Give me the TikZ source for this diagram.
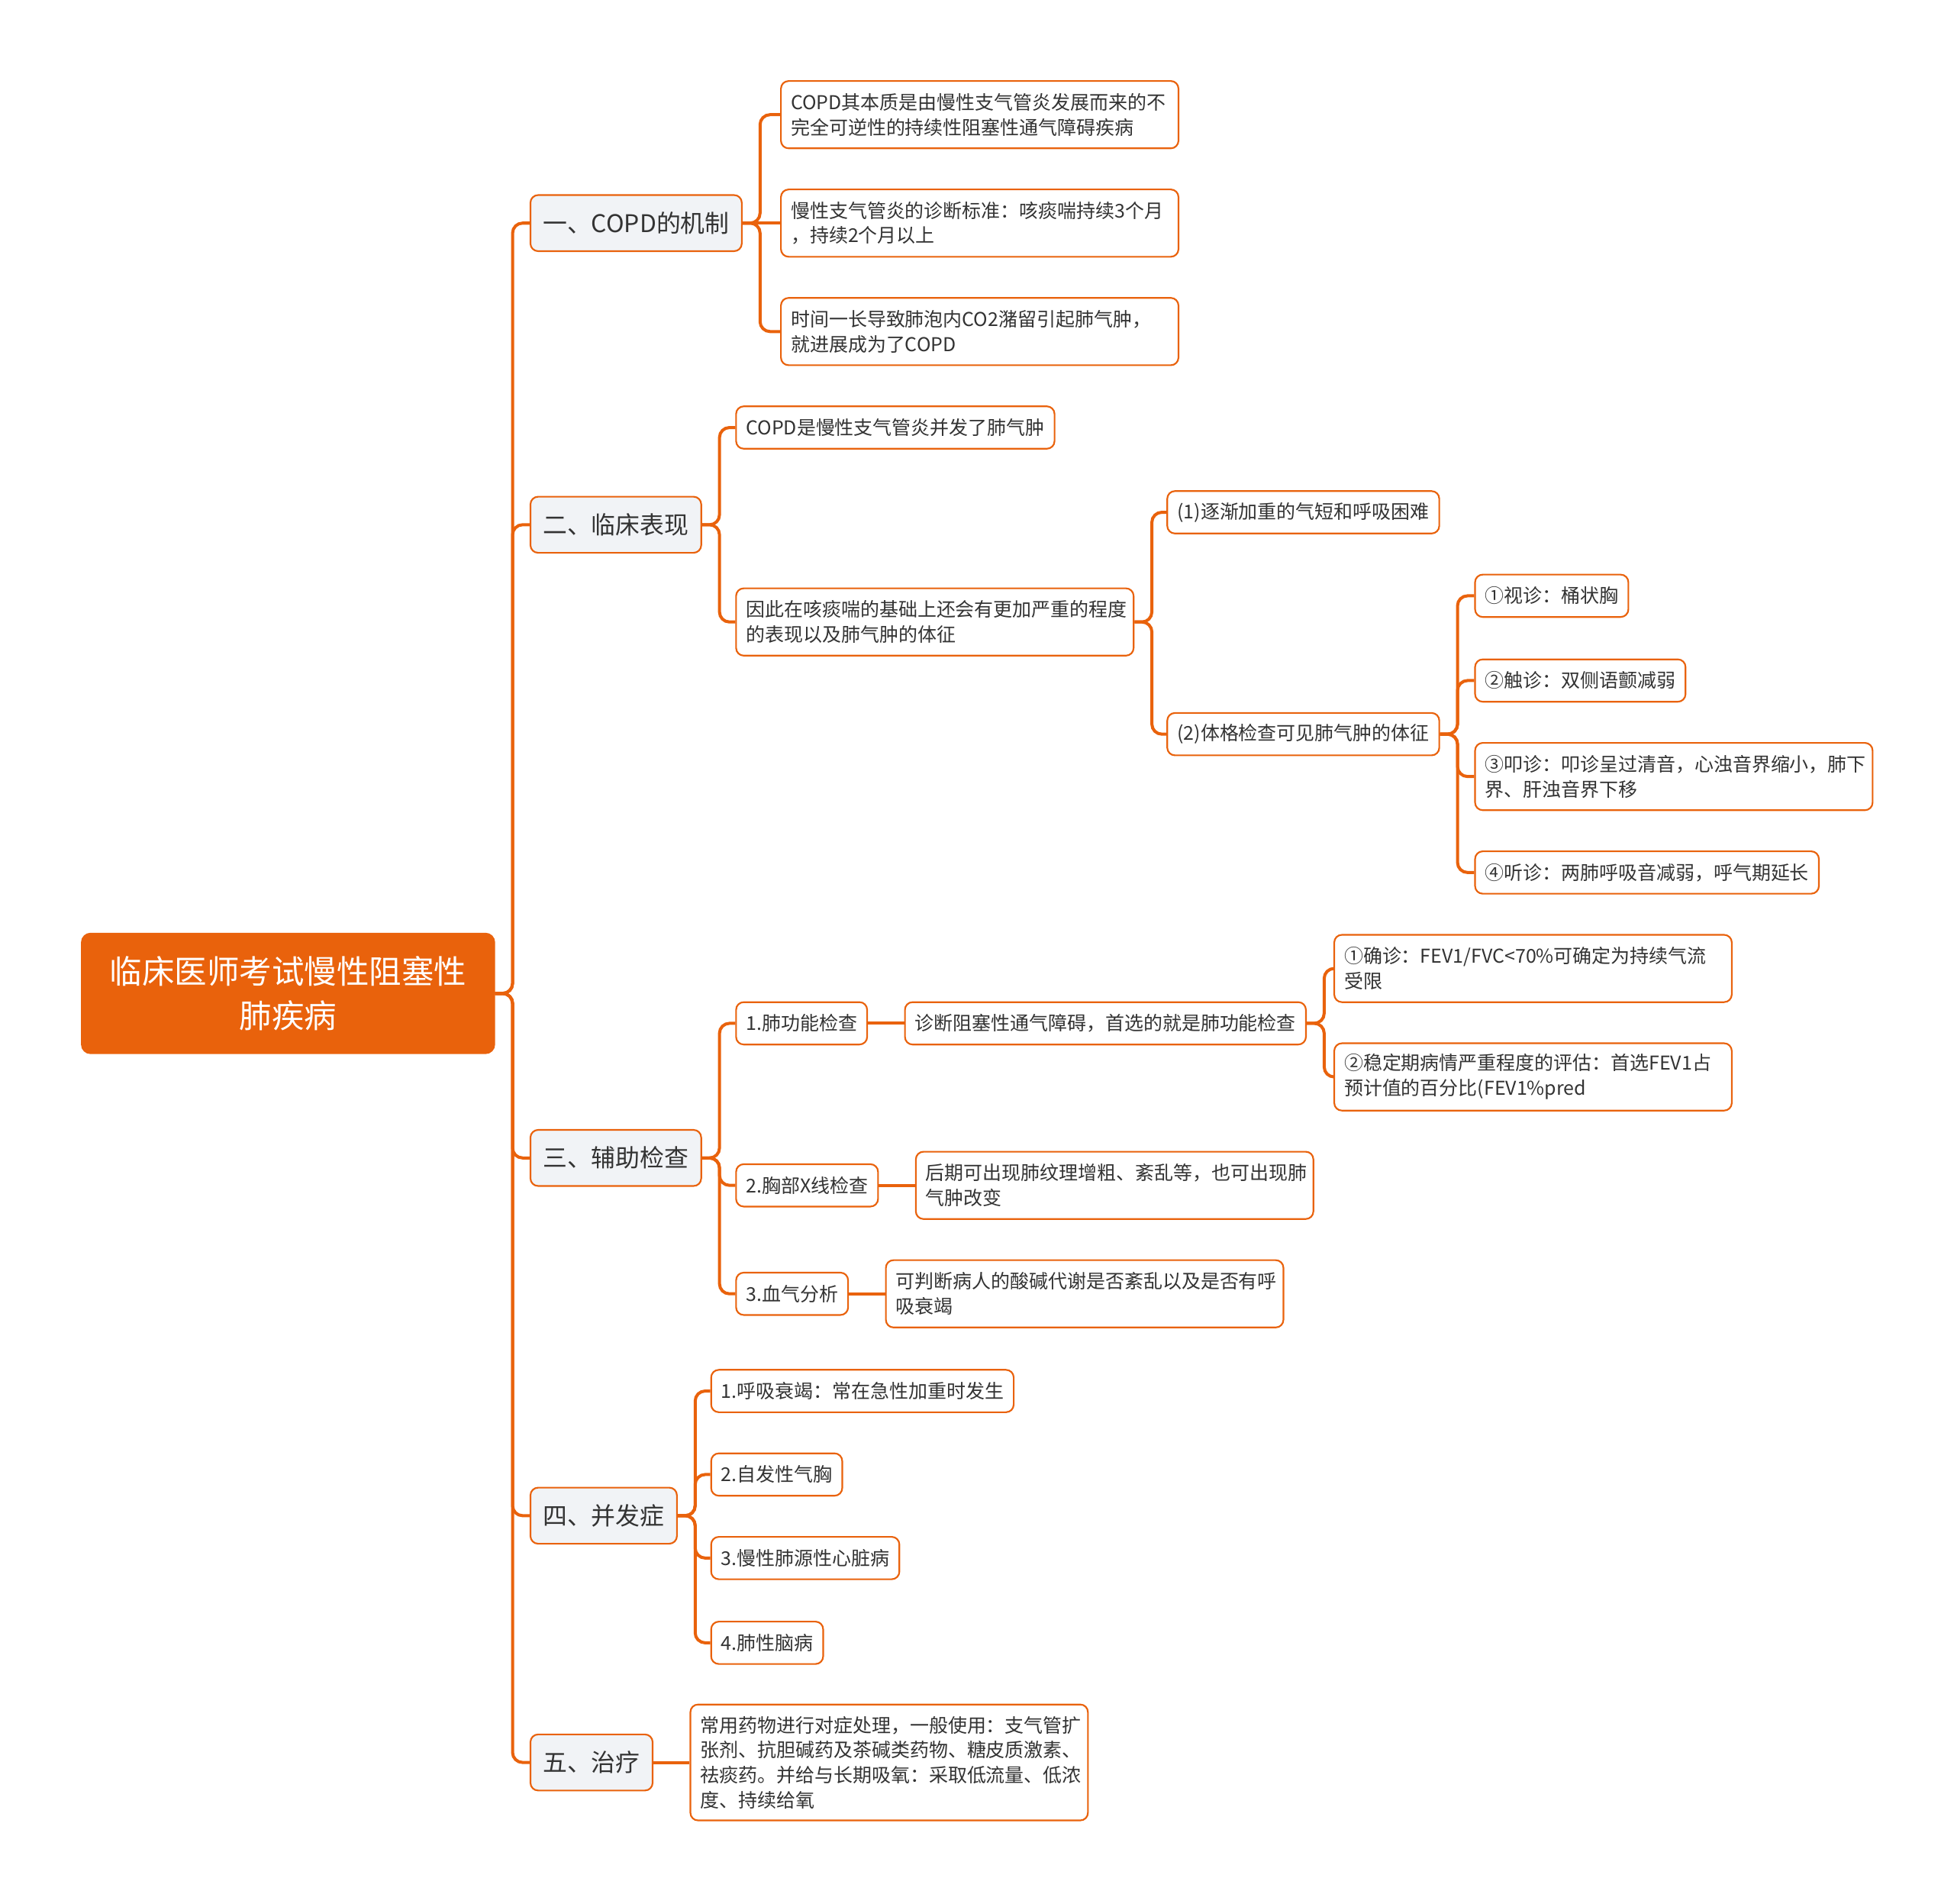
\documentclass[tikz,border=0pt]{standalone}
\usepackage{fontspec}
\setmainfont{Noto Sans CJK SC}
\usetikzlibrary{positioning}
\definecolor{corange}{HTML}{E9620C}
\definecolor{cpale}{HTML}{F1F3F6}
\definecolor{cink}{HTML}{333333}
\tikzset{
  every picture/.style={line width=0.75pt},
  box/.style={draw=corange, fill=white, rounded corners=3.5pt, text=cink, font=\fontsize{8.7}{11.4}\selectfont, inner xsep=0.16cm, inner ysep=0pt, minimum height=0.68cm, anchor=west, align=left},
  widebox/.style={box, text width=6.06cm, minimum height=1.08cm},
  topic/.style={box, fill=cpale, font=\fontsize{11.1}{14}\selectfont, minimum height=0.9cm, inner xsep=0.2cm},
  rootbox/.style={draw=corange, fill=corange, rounded corners=4pt, text=white, font=\fontsize{14.8}{19.9}\selectfont, align=center, minimum width=6.62cm, minimum height=1.92cm, anchor=west},
  link/.style={draw=corange, line width=1.4pt, rounded corners=0.16cm},
}

\begin{document}
\begin{tikzpicture}
  \useasboundingbox (0,0) rectangle (31.36,-30.54);
  % root and main topics
  \node[rootbox] (root) at (1.30,-15.94) {临床医师考试慢性阻塞性\\肺疾病};
  \node[topic] (a) at (8.50,-3.58) {一、COPD的机制};
  \node[topic] (b) at (8.50,-8.42) {二、临床表现};
  \node[topic] (c) at (8.50,-18.58) {三、辅助检查};
  \node[topic] (d) at (8.50,-24.32) {四、并发症};
  \node[topic] (e) at (8.50,-28.28) {五、治疗};
  % 一
  \node[widebox] (a1) at (12.52,-1.84) {COPD其本质是由慢性支气管炎发展而来的不\\完全可逆性的持续性阻塞性通气障碍疾病};
  \node[widebox] (a2) at (12.52,-3.58) {慢性支气管炎的诊断标准：咳痰喘持续3个月\\，持续2个月以上};
  \node[widebox] (a3) at (12.52,-5.32) {时间一长导致肺泡内CO2潴留引起肺气肿，\\就进展成为了COPD};
  % 二
  \node[box] (b1) at (11.80,-6.86) {COPD是慢性支气管炎并发了肺气肿};
  \node[widebox] (b2) at (11.80,-9.98) {因此在咳痰喘的基础上还会有更加严重的程度\\的表现以及肺气肿的体征};
  \node[box] (b21) at (18.72,-8.22) {(1)逐渐加重的气短和呼吸困难};
  \node[box] (b22) at (18.72,-11.78) {(2)体格检查可见肺气肿的体征};
  \node[box] (b221) at (23.66,-9.56) {①视诊：桶状胸};
  \node[box] (b222) at (23.66,-10.92) {②触诊：双侧语颤减弱};
  \node[widebox] (b223) at (23.66,-12.46) {③叩诊：叩诊呈过清音，心浊音界缩小，肺下\\界、肝浊音界下移};
  \node[box] (b224) at (23.66,-14.00) {④听诊：两肺呼吸音减弱，呼气期延长};
  % 三
  \node[box] (c1) at (11.80,-16.42) {1.肺功能检查};
  \node[box] (c2) at (11.80,-19.02) {2.胸部X线检查};
  \node[box] (c3) at (11.80,-20.76) {3.血气分析};
  \node[box, right=0.58cm of c1] (c11) {诊断阻塞性通气障碍，首选的就是肺功能检查};
  \node[widebox] (c111) at (21.40,-15.54) {①确诊：FEV1/FVC<70\%可确定为持续气流\\受限};
  \node[widebox] (c112) at (21.40,-17.28) {②稳定期病情严重程度的评估：首选FEV1占\\预计值的百分比(FEV1\%pred};
  \node[widebox, right=0.58cm of c2] (c21) {后期可出现肺纹理增粗、紊乱等，也可出现肺\\气肿改变};
  \node[widebox, right=0.58cm of c3] (c31) {可判断病人的酸碱代谢是否紊乱以及是否有呼\\吸衰竭};
  % 四
  \node[box] (d1) at (11.40,-22.32) {1.呼吸衰竭：常在急性加重时发生};
  \node[box] (d2) at (11.40,-23.66) {2.自发性气胸};
  \node[box] (d3) at (11.40,-25.00) {3.慢性肺源性心脏病};
  \node[box] (d4) at (11.40,-26.36) {4.肺性脑病};
  % 五
  \node[widebox, minimum height=1.86cm, right=0.58cm of e] (e1) {常用药物进行对症处理，一般使用：支气管扩\\张剂、抗胆碱药及茶碱类药物、糖皮质激素、\\祛痰药。并给与长期吸氧：采取低流量、低浓\\度、持续给氧};
  % connectors
  \foreach \k in {a,b,c,d,e}
    \draw[link] (root.east) -- ++(0.28,0) |- (\k.west);
  \foreach \k in {a1,a3}
    \draw[link] (a.east) -- ++(0.28,0) |- (\k.west);
  \draw[link] (a.east) -- (a2.west);
  \foreach \k in {b1,b2}
    \draw[link] (b.east) -- ++(0.28,0) |- (\k.west);
  \foreach \k in {b21,b22}
    \draw[link] (b2.east) -- ++(0.28,0) |- (\k.west);
  \foreach \k in {b221,b222,b223,b224}
    \draw[link] (b22.east) -- ++(0.28,0) |- (\k.west);
  \foreach \k in {c1,c2,c3}
    \draw[link] (c.east) -- ++(0.28,0) |- (\k.west);
  \draw[link] (c1) -- (c11);
  \foreach \k in {c111,c112}
    \draw[link] (c11.east) -- ++(0.28,0) |- (\k.west);
  \draw[link] (c2) -- (c21);
  \draw[link] (c3) -- (c31);
  \foreach \k in {d1,d2,d3,d4}
    \draw[link] (d.east) -- ++(0.28,0) |- (\k.west);
  \draw[link] (e) -- (e1);
\end{tikzpicture}
\end{document}
